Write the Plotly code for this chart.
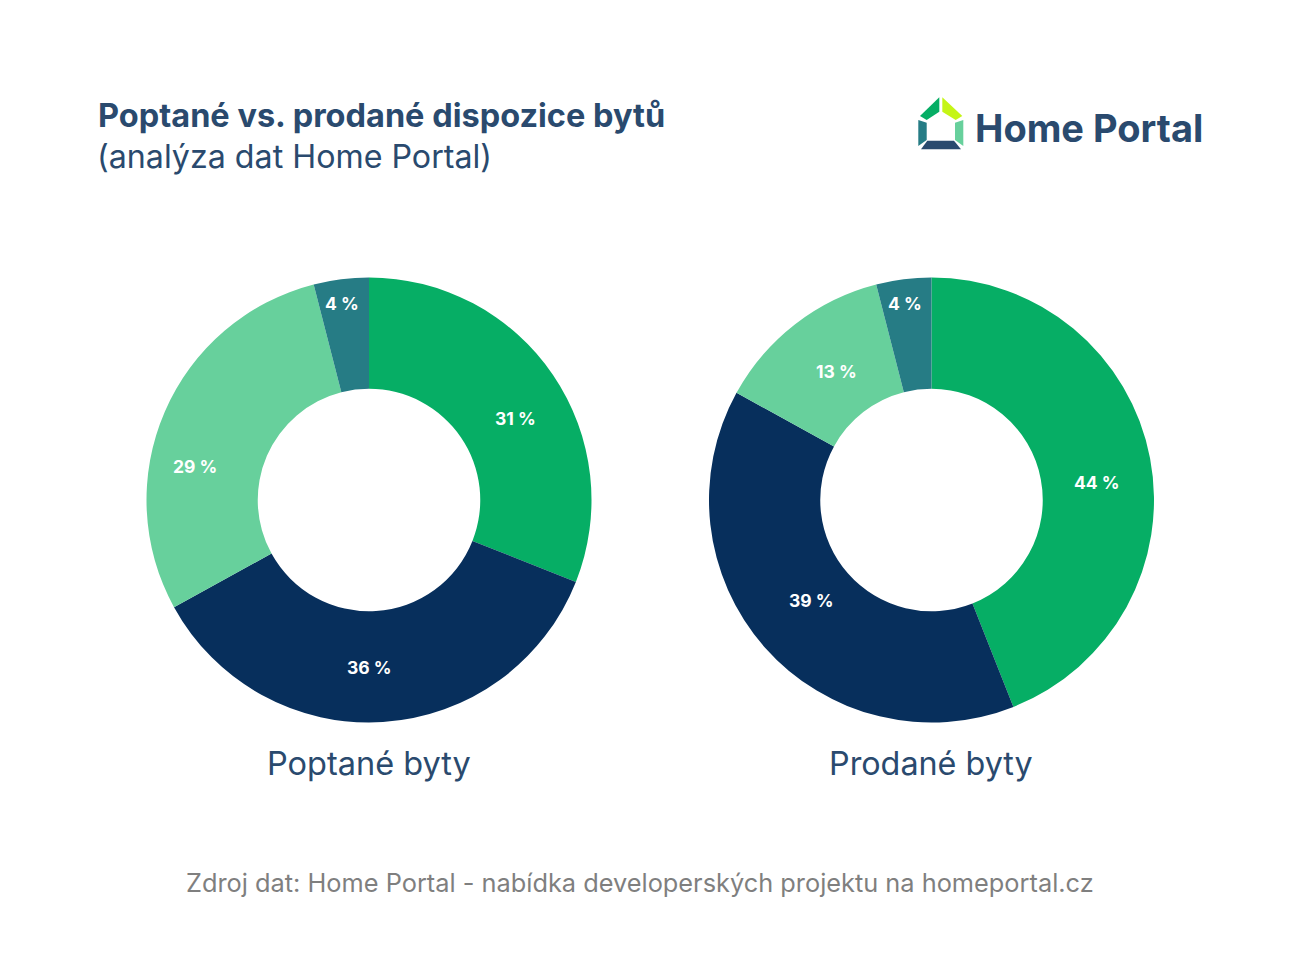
import plotly.graph_objects as go

W = 1300
H = 975

categories = ["A", "B", "C", "D"]
poptane = [31, 36, 29, 4]
prodane = [44, 39, 13, 4]
poptane_labels = ["31 %", "36 %", "29 %", "4 %"]
prodane_labels = ["44 %", "39 %", "13 %", "4 %"]
colors = ["#06ae65", "#072f5c", "#67d09c", "#267c85"]

# where the percent labels sit on the page, they are not at the slice middles
poptane_label_x = [515, 369, 195, 342]
poptane_label_y = [418.5, 667.5, 467, 304]
prodane_label_x = [1097, 811, 836, 905]
prodane_label_y = [483, 600.5, 371, 304]

FONT = "Inter"
NAVY = "#2a4a6e"


def px(x):
    return x / W


def py(y):
    return 1 - y / H


def add_text(fig, x, y, text, size, color=NAVY, anchor="left", weight=None):
    if weight:
        text = "<b>" + text + "</b>"
    fig.add_annotation(x=px(x), y=py(y), xref="paper", yref="paper", text=text, showarrow=False,
                       xanchor=anchor, yanchor="middle", font=dict(family=FONT, size=size, color=color))


def add_poly(fig, pts, color):
    path = "M " + " L ".join(f"{px(a):.5f},{py(b):.5f}" for a, b in pts) + " Z"
    fig.add_shape(type="path", path=path, xref="paper", yref="paper", fillcolor=color, line_width=0, layer="above")


fig = go.Figure()

fig.add_trace(go.Pie(labels=categories, values=poptane, textinfo="none", hoverinfo="label+percent",
                     hole=0.5, sort=False, direction="clockwise", rotation=0,
                     marker=dict(colors=colors),
                     domain=dict(x=[px(146.5), px(591.5)], y=[py(722.5), py(277.5)]), showlegend=False))
fig.add_trace(go.Pie(labels=categories, values=prodane, textinfo="none", hoverinfo="label+percent",
                     hole=0.5, sort=False, direction="clockwise", rotation=0,
                     marker=dict(colors=colors),
                     domain=dict(x=[px(709), px(1154)], y=[py(722.5), py(277.5)]), showlegend=False))

for x, y, t in zip(poptane_label_x, poptane_label_y, poptane_labels):
    add_text(fig, x, y, t, 17.5, color="white", anchor="center", weight=True)
for x, y, t in zip(prodane_label_x, prodane_label_y, prodane_labels):
    add_text(fig, x, y, t, 17.5, color="white", anchor="center", weight=True)

add_text(fig, 96, 115, "Poptané vs. prodané dispozice bytů", 32.5, weight=True)
add_text(fig, 95, 156, "(analýza dat Home Portal)", 32.2)
add_text(fig, 369, 763.5, "Poptané byty", 32.5, anchor="center")
add_text(fig, 931, 763.5, "Prodané byty", 32.3, anchor="center")
add_text(fig, 639.5, 882, "Zdroj dat: Home Portal - nabídka developerských projektu na homeportal.cz", 25.35,
         color="#7f7f7f", anchor="center")
add_text(fig, 973, 128, "Home Portal", 38, weight=True)

# logo
add_poly(fig, [(939.3, 97.3), (939.3, 111.7), (926.7, 120), (920, 116)], "#06ae65")
add_poly(fig, [(942.3, 97.3), (962.3, 116), (955.7, 120), (942.3, 111.7)], "#c5f516")
add_poly(fig, [(918.3, 120), (926.7, 122.7), (926.7, 140), (918.3, 146)], "#267c85")
add_poly(fig, [(963.3, 120), (955, 122.7), (955, 140), (963.3, 146)], "#67d09c")
add_poly(fig, [(927.3, 140.7), (954, 140.7), (961, 149.3), (921, 149.3)], "#2a4a6e")

fig.update_layout(width=W, height=H, margin=dict(l=0, r=0, t=0, b=0), paper_bgcolor="white",
                  font=dict(family=FONT))
fig.write_html("out.html", post_script="document.body.style.margin = '0';", config=dict(displayModeBar=False))
